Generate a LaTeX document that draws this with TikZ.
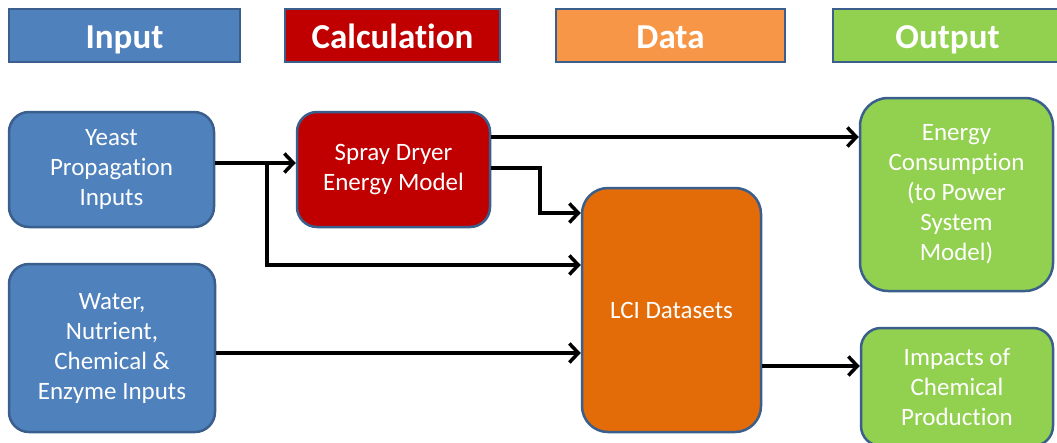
\documentclass[tikz,border=0pt]{standalone}
\usepackage{fontspec}
\setmainfont{Carlito}[Ligatures=NoCommon, Contextuals=NoAlternate, RawFeature={-liga;-clig;-calt;-dlig}]
\usetikzlibrary{arrows.meta}
\definecolor{inblue}{HTML}{4F81BD}
\definecolor{bord}{HTML}{3A5F8C}
\definecolor{calcred}{HTML}{C00000}
\definecolor{dataor}{HTML}{F79646}
\definecolor{lcior}{HTML}{E36C09}
\definecolor{outgreen}{HTML}{92D050}
\tikzset{
  hdr/.style={draw=bord, line width=2.5pt, text=white, inner sep=0pt,
    font=\fontsize{35}{38}\selectfont\bfseries, minimum height=53pt,
    text height=31pt, text depth=6pt},
  box/.style={draw=bord, line width=2.5pt, rounded corners=20pt, text=white,
    inner sep=0pt, align=center, font=\fontsize{25}{30}\selectfont},
  arr/.style={line width=3.5pt, -{Straight Barb[length=9pt,width=19pt,line width=3.5pt]}}
}
\begin{document}
\begin{tikzpicture}[x=1pt,y=-1pt]
\useasboundingbox (0,0) rectangle (1057,442);
% headers
\node[hdr, fill=inblue, minimum width=231pt] (hin) at (124.5,35.5) {Input};
\node[hdr, fill=calcred, minimum width=215pt] (hcalc) at (392.5,35.5) {Calculation};
\node[hdr, fill=dataor, minimum width=229pt] (hdata) at (670.5,35.5) {Data};
\node[hdr, fill=outgreen, minimum width=229pt] (hout) at (947.5,35.5) {Output};
% boxes
\node[box, fill=inblue, minimum width=205pt, minimum height=115pt] (yeast) at (111.5,169.5) {Yeast\\Propagation\\Inputs};
\node[box, fill=calcred, minimum width=193pt, minimum height=115pt] (spray) at (393.5,169.5) {Spray Dryer\\Energy Model};
\node[box, fill=lcior, minimum width=179pt, minimum height=244pt, rounded corners=26pt] (lci) at (671.5,310) {LCI Datasets};
\node[box, fill=outgreen, minimum width=193pt, minimum height=193pt, rounded corners=28pt] (energy) at (956.5,194.5) {Energy\\Consumption\\(to Power\\System\\Model)};
\node[box, fill=inblue, minimum width=206pt, minimum height=168pt] (water) at (112,348) {Water,\\Nutrient,\\Chemical \&\\Enzyme Inputs};
\node[box, fill=outgreen, minimum width=192pt, minimum height=118pt] (impacts) at (957,387) {Impacts of\\Chemical\\Production};
% helper coordinates
\coordinate (b1) at (267,163);
\coordinate (b2) at (267,265);
\coordinate (s1) at (540,137);
\coordinate (c1) at (540,168);
\coordinate (c2) at (540,213);
\coordinate (w1) at (0,353);
\coordinate (l1) at (0,366);
% connectors
\draw[arr] (yeast.east |- b1) -- (spray.west |- b1);
\draw[arr] (b1) -- (b2) -- (lci.west |- b2);
\draw[arr] (spray.east |- s1) -- (energy.west |- s1);
\draw[arr] (spray.east |- c1) -- (c1) -- (c2) -- (lci.west |- c2);
\draw[arr] (water.east |- w1) -- (lci.west |- w1);
\draw[arr] (lci.east |- l1) -- (impacts.west |- l1);
\end{tikzpicture}
\end{document}
